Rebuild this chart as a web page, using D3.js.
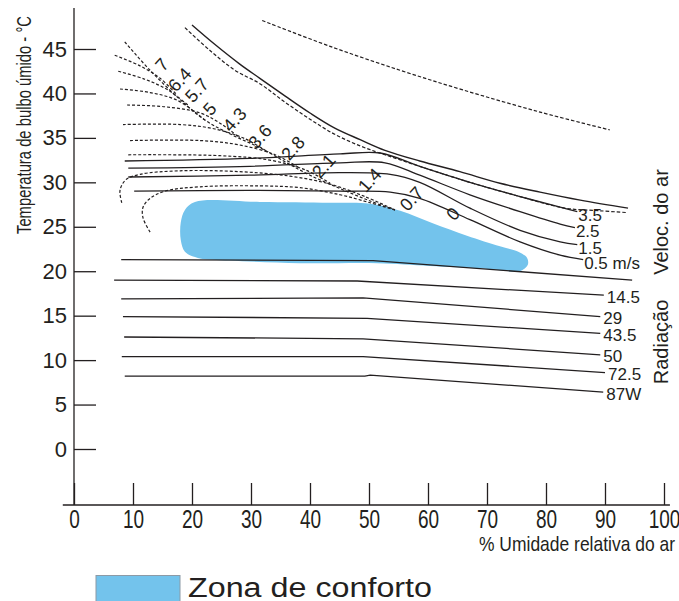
<!DOCTYPE html>
<html>
<head>
<meta charset="utf-8">
<script src="https://cdn.jsdelivr.net/npm/d3@7"></script>
<style>
  html, body { margin: 0; padding: 0; background: #fff; }
  svg { display: block; }
</style>
</head>
<body>
<svg id="chart" width="679" height="601"></svg>
<script>
// ---- Data: points are [relative humidity %, wet-bulb temperature °C] ----
const xTicks = [0, 10, 20, 30, 40, 50, 60, 70, 80, 90, 100];
const yTicks = [0, 5, 10, 15, 20, 25, 30, 35, 40, 45];

// Comfort zone outline
const comfortZone = [
  [20.5, 27.8], [31.5, 27.8], [43.4, 27.7], [50.2, 27.6], [55.3, 26.8], [60.8, 25.4],
  [66.6, 24.0], [72.2, 22.8], [75.3, 22.2], [76.8, 21.5], [76.9, 20.7], [75.6, 20.0],
  [72.2, 20.1], [69.3, 20.3], [60.3, 20.6], [51.4, 20.9], [38.3, 20.9], [26.4, 21.2],
  [21.0, 21.5], [18.8, 22.2], [18.1, 23.5], [18.1, 25.5], [18.8, 26.9]
];

// Upper limit curves
const upperSolid = [
  [20.0, 47.7], [23.9, 45.5], [28.1, 43.3], [31.5, 41.7], [35.8, 39.7], [40.0, 37.8],
  [44.2, 36.1], [48.5, 34.8], [52.7, 33.6], [58.6, 32.4], [65.4, 31.2], [72.2, 29.9],
  [79.0, 28.9], [85.8, 28.0], [93.9, 27.1]
];
const upperDashed = [
  [18.8, 47.4], [23.1, 44.8], [27.3, 42.6], [31.5, 41.1], [35.8, 39.0], [40.0, 37.1],
  [44.2, 35.4], [48.5, 34.1], [52.7, 33.1], [58.6, 31.8], [67.1, 30.0], [75.6, 28.4],
  [83.2, 27.1], [89.2, 26.8], [93.7, 26.6]
];
const topDashed = [
  [31.9, 48.2], [43.4, 45.3], [55.3, 42.6], [65.9, 40.4], [79.0, 37.9], [90.8, 35.9]
];

// Wind speed lines (m/s)
const windLabels = ["3.5", "2.5", "1.5", "0.5 m/s"];
const wind35 = [[8.6, 32.4], [29.8, 32.7], [45.1, 33.2], [51.9, 33.3], [58.6, 31.8], [67.1, 30.0], [75.6, 28.4], [82.4, 27.2], [85.3, 26.7]];
const wind25 = [[9.2, 31.6], [29.8, 31.8], [45.1, 32.2], [52.7, 32.2], [58.6, 30.8], [67.1, 28.6], [75.6, 26.7], [82.4, 25.3], [84.9, 24.9]];
const wind15 = [[9.2, 30.6], [29.8, 30.8], [45.1, 31.1], [53.6, 30.9], [58.6, 30.0], [67.1, 27.1], [75.6, 24.6], [82.4, 23.3], [85.3, 23.0]];
const wind05 = [[10.2, 29.0], [29.8, 29.1], [45.1, 29.0], [53.6, 28.9], [58.6, 28.2], [67.1, 25.8], [75.6, 23.3], [82.4, 21.8], [86.3, 21.3]];
const windLines = [wind35, wind25, wind15, wind05];

// Radiation lines (W)
const radiationLabels = ["", "14.5", "29", "43.5", "50", "72.5", "87W"];
const rad0   = [[8.0, 21.3], [50.7, 21.2], [94.6, 19.0]];
const rad145 = [[6.8, 19.0], [48.0, 18.9], [89.8, 17.3]];
const rad29  = [[8.0, 16.9], [49.0, 17.0], [89.2, 14.9]];
const rad435 = [[8.3, 14.9], [49.7, 14.7], [89.2, 13.0]];
const rad50  = [[8.5, 12.6], [49.0, 12.4], [89.2, 10.6]];
const rad725 = [[8.1, 10.4], [49.0, 10.4], [90.0, 8.6]];
const rad87  = [[8.6, 8.2], [49.3, 8.2], [50.2, 8.3], [89.7, 6.4]];
const radiationLines = [rad0, rad145, rad29, rad435, rad50, rad725, rad87];

// Moisture lines (g/kg), dashed
const moistureLabels = ["7", "6.4", "5.7", "5", "4.3", "3.6", "2.8", "2.1", "1.4", "0.7", "0"];
const moistureLabelAt = [
  [14.1, 42.9], [17.1, 41.2], [20.0, 40.0], [22.2, 37.9], [26.4, 36.7], [30.7, 34.8],
  [36.3, 33.5], [41.5, 31.5], [49.3, 29.9], [56.4, 27.8], [63.4, 26.1]
];
const moist7  = [[8.6, 45.8], [12.9, 42.6], [18.0, 39.3], [22.2, 37.0], [26.9, 35.3], [31.5, 33.9], [35.8, 32.3], [40.0, 30.8], [45.1, 29.3], [50.2, 27.9], [54.4, 26.9]];
const moist64 = [[6.9, 44.3], [11.2, 43.1], [14.6, 41.7], [17.5, 39.8]];
const moist57 = [[7.5, 42.5], [12.0, 41.6], [15.9, 40.4], [19.3, 38.7]];
const moist5  = [[7.8, 40.5], [12.9, 40.1], [17.6, 39.2], [22.2, 37.0]];
const moist43 = [[9.0, 38.7], [15.4, 38.5], [21.4, 37.8], [25.1, 36.5], [28.1, 35.0]];
const moist36 = [[8.3, 36.5], [18.0, 36.5], [23.9, 36.0], [29.0, 34.9], [32.9, 33.4]];
const moist28 = [[9.5, 34.7], [21.4, 34.7], [28.1, 34.2], [34.1, 33.1], [38.0, 31.7]];
const moist21 = [[9.2, 33.1], [24.7, 33.0], [33.2, 32.5], [39.2, 31.4], [43.4, 29.9]];
const moist14 = [[8.1, 27.7], [7.8, 29.1], [8.8, 30.3], [11.2, 30.9], [18.0, 31.3], [28.1, 31.2], [36.6, 30.7], [43.4, 29.8], [49.3, 28.4], [54.4, 26.9]];
const moist07 = [[12.9, 24.4], [11.7, 26.0], [11.7, 27.2], [12.9, 28.2], [15.4, 29.0], [21.4, 29.5], [31.5, 29.6], [38.3, 29.4], [45.1, 28.6], [50.2, 27.7], [54.4, 26.9]];
const moistureLines = [moist7, moist64, moist57, moist5, moist43, moist36, moist28, moist21, moist14, moist07];

// ---- Drawing ----
const svg = d3.select("#chart");
const ink = "#231f20";
const blue = "#73c3ec";
const FONT = "'Liberation Sans', Arial, Helvetica, sans-serif";

const x = d3.scaleLinear().domain([0, 100]).range([74, 664]);
const y = d3.scaleLinear().domain([0, 45]).range([449, 49]);

const smooth = d3.line().x(d => x(d[0])).y(d => y(d[1])).curve(d3.curveCatmullRom.alpha(0.5));
const straight = d3.line().x(d => x(d[0])).y(d => y(d[1]));
const closed = d3.line().x(d => x(d[0])).y(d => y(d[1])).curve(d3.curveCatmullRomClosed.alpha(0.5));

// squeeze a text horizontally to a fraction of its natural width (condensed look)
function condense(sel, factor) {
  sel.each(function () {
    const w = this.getComputedTextLength();
    d3.select(this).attr("textLength", w * factor).attr("lengthAdjust", "spacingAndGlyphs");
  });
}

// comfort zone
svg.append("path").attr("d", closed(comfortZone)).attr("fill", blue);

// axes
const xAxisAt = -6.3;   // temperature where the humidity axis sits
const yAxisTop = 49.6;
svg.append("line")
  .attr("x1", x(0)).attr("x2", x(0)).attr("y1", y(yAxisTop)).attr("y2", y(xAxisAt))
  .attr("stroke", ink).attr("stroke-width", 1.3);
svg.append("line")
  .attr("x1", x(-1.9)).attr("x2", x(101)).attr("y1", y(xAxisAt)).attr("y2", y(xAxisAt))
  .attr("stroke", ink).attr("stroke-width", 1.3);

const gy = svg.append("g").attr("transform", `translate(${x(0)},0)`)
  .call(d3.axisLeft(y).tickValues(yTicks).tickSize(-22).tickPadding(7).tickFormat(d3.format("d")));
gy.select(".domain").remove();
gy.selectAll(".tick line").attr("stroke", ink).attr("stroke-width", 1.3);
gy.selectAll(".tick text").attr("font-family", FONT).attr("font-size", 22).attr("fill", ink);

const gx = svg.append("g").attr("transform", `translate(0,${y(xAxisAt)})`)
  .call(d3.axisBottom(x).tickValues(xTicks).tickSize(-22).tickPadding(5).tickFormat(d3.format("d")));
gx.select(".domain").remove();
gx.selectAll(".tick line").attr("stroke", ink).attr("stroke-width", 1.3);
gx.selectAll(".tick text").attr("font-family", FONT).attr("font-size", 25).attr("fill", ink)
  .call(condense, 0.76);

// axis titles
svg.append("text")
  .attr("transform", "translate(24,125) rotate(-90)")
  .attr("text-anchor", "middle").attr("dominant-baseline", "central")
  .attr("font-family", FONT).attr("font-size", 20).attr("fill", ink)
  .attr("textLength", 218).attr("lengthAdjust", "spacingAndGlyphs")
  .text("Temperatura de bulbo úmido - °C");
svg.append("text")
  .attr("x", 675).attr("y", 551).attr("text-anchor", "end")
  .attr("font-family", FONT).attr("font-size", 21).attr("fill", ink)
  .attr("textLength", 196).attr("lengthAdjust", "spacingAndGlyphs")
  .text("% Umidade relativa do ar");

// upper limit curves
svg.append("path").attr("d", smooth(topDashed)).attr("fill", "none")
  .attr("stroke", ink).attr("stroke-width", 1.2).attr("stroke-dasharray", "3.5,2");
svg.append("path").attr("d", smooth(upperDashed)).attr("fill", "none")
  .attr("stroke", ink).attr("stroke-width", 1.2).attr("stroke-dasharray", "3.5,2");
svg.append("path").attr("d", smooth(upperSolid)).attr("fill", "none")
  .attr("stroke", ink).attr("stroke-width", 1.4);

// moisture lines
svg.append("g").selectAll("path").data(moistureLines).join("path")
  .attr("d", d => smooth(d)).attr("fill", "none")
  .attr("stroke", ink).attr("stroke-width", 1.2).attr("stroke-dasharray", "3,2");
svg.append("g").selectAll("text").data(moistureLabels).join("text")
  .attr("transform", (d, i) => `translate(${x(moistureLabelAt[i][0]) + 5},${y(moistureLabelAt[i][1]) - 3}) rotate(-48)`)
  .attr("text-anchor", "middle").attr("dominant-baseline", "central")
  .attr("font-family", FONT).attr("font-size", 18).attr("fill", ink)
  .text(d => d);

// wind speed lines
svg.append("g").selectAll("path").data(windLines).join("path")
  .attr("d", d => smooth(d)).attr("fill", "none")
  .attr("stroke", ink).attr("stroke-width", 1.3);
svg.append("g").selectAll("text").data(windLabels).join("text")
  .attr("x", (d, i) => x(windLines[i][windLines[i].length - 1][0]) + 1)
  .attr("y", (d, i) => y(windLines[i][windLines[i].length - 1][1]) + 4)
  .attr("dominant-baseline", "central")
  .attr("font-family", FONT).attr("font-size", 17).attr("fill", ink)
  .text(d => d);

// radiation lines
svg.append("g").selectAll("path").data(radiationLines).join("path")
  .attr("d", d => straight(d)).attr("fill", "none")
  .attr("stroke", ink).attr("stroke-width", 1.3);
svg.append("g").selectAll("text").data(radiationLabels).join("text")
  .attr("x", (d, i) => x(radiationLines[i][radiationLines[i].length - 1][0]) + 3)
  .attr("y", (d, i) => y(radiationLines[i][radiationLines[i].length - 1][1]) + 2)
  .attr("dominant-baseline", "central")
  .attr("font-family", FONT).attr("font-size", 17).attr("fill", ink)
  .text(d => d);

// group titles on the right
svg.append("text")
  .attr("transform", "translate(661,222) rotate(-90)")
  .attr("text-anchor", "middle").attr("dominant-baseline", "central")
  .attr("font-family", FONT).attr("font-size", 20).attr("fill", ink)
  .text("Veloc. do ar");
svg.append("text")
  .attr("transform", "translate(661,342) rotate(-90)")
  .attr("text-anchor", "middle").attr("dominant-baseline", "central")
  .attr("font-family", FONT).attr("font-size", 20).attr("fill", ink)
  .text("Radiação");

// legend
svg.append("rect")
  .attr("x", 96).attr("y", 575.5).attr("width", 84).attr("height", 26)
  .attr("fill", blue).attr("stroke", "#8c9aa6").attr("stroke-width", 1);
svg.append("text")
  .attr("x", 188).attr("y", 597)
  .attr("font-family", FONT).attr("font-size", 27).attr("fill", ink)
  .attr("textLength", 244).attr("lengthAdjust", "spacingAndGlyphs")
  .text("Zona de conforto");
</script>
</body>
</html>
